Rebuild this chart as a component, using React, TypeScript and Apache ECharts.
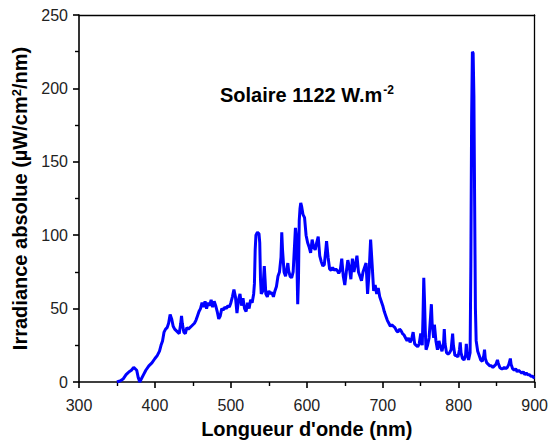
import React, { useEffect, useRef } from "react";
import * as echarts from "echarts";

const wavelengths: number[] = [
  350, 355, 358, 362, 366, 369, 372, 374, 376, 378, 380, 382, 385, 388, 392, 396, 400, 403, 406, 408,
  410, 412, 414, 416, 418, 420, 422, 424, 426, 428, 430, 432, 434, 435, 436, 438, 440, 442, 444, 446,
  448, 450, 452, 454, 456, 458, 460, 462, 464, 466, 468, 470, 472, 474, 476, 478, 480, 482, 484, 486,
  488, 490, 492, 494, 496, 498, 500, 502, 504, 506, 508, 510, 512, 514, 516, 518, 520, 522, 524, 526,
  528, 530, 531, 532, 533, 535, 537, 538, 539, 540, 542, 544, 545, 546, 548, 550, 552, 554, 556, 558,
  560, 562, 564, 566, 567, 568, 570, 572, 574, 575, 576, 578, 580, 582, 584, 585, 586, 587, 588, 589,
  590, 591, 592, 593, 595, 597, 599, 601, 603, 605, 607, 609, 611, 613, 615, 617, 619, 621, 623, 625,
  626, 628, 630, 632, 634, 636, 638, 640, 642, 644, 646, 648, 650, 652, 654, 656, 658, 660, 662, 664,
  666, 668, 670, 672, 674, 676, 678, 680, 682, 684, 686, 688, 690, 692, 694, 696, 698, 700, 702, 704,
  706, 708, 710, 712, 714, 716, 718, 720, 722, 724, 726, 728, 730, 732, 734, 736, 738, 740, 742, 744,
  746, 748, 750, 752, 753, 754, 755, 756, 757, 759, 761, 763, 764, 765, 767, 768, 770, 772, 774, 776,
  778, 780, 781, 782, 784, 786, 788, 790, 792, 793, 795, 797, 799, 801, 802, 803, 805, 807, 809, 810,
  811, 813, 815, 816, 817, 818, 819, 820, 821, 822, 823, 825, 827, 829, 831, 833, 834, 835, 837, 839,
  841, 843, 845, 847, 849, 851, 852, 854, 856, 858, 860, 862, 864, 866, 868, 869, 871, 873, 875, 877,
  879, 881, 883, 885, 887, 889, 891, 893, 895, 897, 899, 900,
];

const irradiance: number[] = [
  0, 1, 2, 5, 7, 8, 10, 9, 8, 3, 0, 2, 5, 8, 11, 13, 16, 18, 21, 25,
  28, 34, 36, 37, 40, 46, 43, 38, 36, 35, 34, 33, 40, 45, 40, 34, 33, 37, 36, 37,
  38, 39, 40, 42, 45, 48, 50, 54, 51, 55, 50, 54, 52, 56, 51, 55, 52, 48, 43, 45,
  50, 49, 51, 50, 52, 51, 54, 58, 63, 58, 47, 56, 60, 52, 57, 50, 48, 54, 50, 56,
  54, 60, 67, 90, 100, 102, 101, 95, 70, 60, 62, 79, 70, 60, 58, 62, 60, 61, 58, 62,
  65, 72, 75, 85, 102, 90, 75, 72, 78, 81, 76, 72, 71, 75, 95, 105, 100, 80, 53, 70,
  110, 118, 122, 120, 114, 112, 100, 95, 92, 88, 97, 92, 90, 95, 99, 86, 82, 79, 80, 90,
  96, 85, 77, 76, 78, 76, 77, 76, 74, 76, 84, 72, 66, 75, 83, 78, 70, 84, 75, 80,
  86, 75, 72, 69, 75, 78, 81, 60, 75, 97, 80, 62, 66, 60, 64, 58, 55, 52, 48, 45,
  42, 40, 38, 39, 38, 37, 35, 34, 36, 35, 33, 32, 30, 28, 30, 27, 29, 34, 26, 25,
  24, 26, 33, 25, 45, 71, 55, 35, 22, 25, 30, 45, 53, 40, 30, 39, 28, 22, 28, 24,
  21, 26, 36, 26, 20, 19, 20, 22, 33, 25, 18, 18, 17, 22, 27, 20, 16, 15, 18, 26,
  20, 15, 20, 80, 180, 225, 224, 195, 120, 50, 28, 21, 18, 15, 14, 18, 22, 16, 13, 12,
  11, 11, 10, 11, 12, 15, 13, 10, 9, 9, 10, 9, 10, 12, 16, 12, 9, 8, 9, 7,
  8, 7, 6, 7, 5, 6, 5, 5, 4, 4, 3, 3,
];

const xTicks = { min: 300, max: 900, interval: 100 };
const yTicks = { min: 0, max: 250, interval: 50 };

const annotation = "Solaire 1122 W.m";
const annotationSup = "-2";
const xTitle = "Longueur d'onde (nm)";
const yTitleA = "Irradiance absolue (µW/cm";
const yTitleSup = "2";
const yTitleB = "/nm)";

const FONT = "Liberation Sans, Arial, Helvetica, sans-serif";

export default function App() {
  const ref = useRef<HTMLDivElement>(null);
  useEffect(() => {
    if (!ref.current) return;
    const chart = echarts.init(ref.current, undefined, { renderer: "svg" });
    const data = wavelengths.map((w, i) => [w, irradiance[i]]);
    const frameAxis = {
      type: "value" as const,
      axisLine: { show: true, onZero: false, lineStyle: { color: "#000", width: 1.3 } },
      axisTick: { show: false },
      minorTick: { show: false },
      axisLabel: { show: false },
      splitLine: { show: false },
    };
    chart.setOption({
      animation: false,
      backgroundColor: "#ffffff",
      grid: { left: 79, right: 14, top: 15, bottom: 59 },
      xAxis: [
        {
          type: "value",
          position: "bottom",
          min: xTicks.min,
          max: xTicks.max,
          interval: xTicks.interval,
          name: xTitle,
          nameLocation: "middle",
          nameGap: 37,
          nameTextStyle: { fontFamily: FONT, fontWeight: "bold", fontSize: 20, color: "#000" },
          axisLine: { show: true, lineStyle: { color: "#000", width: 1.6 } },
          axisTick: { show: true, length: 6, lineStyle: { color: "#000", width: 1.6 } },
          minorTick: { show: true, splitNumber: 2, length: 4, lineStyle: { color: "#000", width: 1.4 } },
          splitLine: { show: false },
          axisLabel: { fontFamily: FONT, fontSize: 16, color: "#222", margin: 15 },
        },
        { ...frameAxis, position: "top", min: xTicks.min, max: xTicks.max },
      ],
      yAxis: [
        {
          type: "value",
          position: "left",
          min: yTicks.min,
          max: yTicks.max,
          interval: yTicks.interval,
          name: `${yTitleA}{sup|${yTitleSup}}${yTitleB}`,
          nameLocation: "middle",
          nameGap: 46,
          nameTextStyle: {
            fontFamily: FONT,
            fontWeight: "bold",
            fontSize: 20,
            color: "#000",
            rich: {
              sup: { fontFamily: FONT, fontWeight: "bold", fontSize: 13, color: "#000", verticalAlign: "top", padding: [0, 0, 8, 0] },
            },
          },
          axisLine: { show: true, lineStyle: { color: "#000", width: 1.6 } },
          axisTick: { show: true, length: 6, lineStyle: { color: "#000", width: 1.6 } },
          minorTick: { show: true, splitNumber: 2, length: 4, lineStyle: { color: "#000", width: 1.4 } },
          splitLine: { show: false },
          axisLabel: { fontFamily: FONT, fontSize: 16, color: "#222", margin: 11 },
        },
        { ...frameAxis, position: "right", min: yTicks.min, max: yTicks.max },
      ],
      graphic: [
        {
          type: "text",
          left: 220,
          top: 84,
          style: {
            text: `${annotation}{sup|${annotationSup}}`,
            fontFamily: FONT,
            fontWeight: "bold",
            fontSize: 20,
            fill: "#000",
            rich: {
              sup: { fontFamily: FONT, fontWeight: "bold", fontSize: 12, fill: "#000", verticalAlign: "top", padding: [0, 0, 10, 1] },
            },
          },
        },
      ],
      series: [
        {
          type: "line",
          xAxisIndex: 0,
          yAxisIndex: 0,
          data,
          showSymbol: false,
          symbol: "none",
          lineStyle: { color: "#0000ff", width: 3 },
        },
      ],
    });
    return () => chart.dispose();
  }, []);
  return (
    <div
      ref={ref}
      style={{ position: "absolute", left: 0, top: 0, width: 551, height: 444 }}
    />
  );
}
